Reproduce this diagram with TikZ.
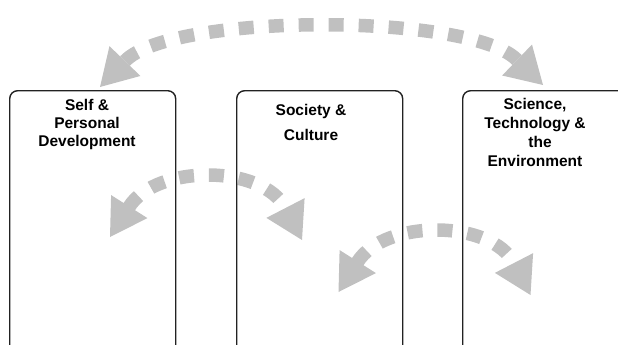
\documentclass[tikz,border=0pt]{standalone}
\usepackage{fontspec}
\setmainfont{Liberation Sans}
\usetikzlibrary{arrows.meta}
\definecolor{arcgray}{HTML}{C0C0C0}
\definecolor{boxline}{HTML}{222222}
\tikzset{
  boxshape/.style={draw=boxline, line width=1.4pt, rounded corners=8pt, minimum width=166pt, minimum height=320pt, anchor=north west, inner sep=0pt},
  boxlabel/.style={font=\bfseries\fontsize{15.5}{18}\selectfont, align=center, anchor=base, inner sep=0pt},
  arcline/.style={draw=arcgray, line width=13.5pt, dash pattern=on 15pt off 15pt,
     {Triangle[length=36pt, width=43pt, fill=arcgray, line width=0pt]}-{Triangle[length=36pt, width=43pt, fill=arcgray, line width=0pt]}}
}
\begin{document}
\begin{tikzpicture}[x=1pt, y=-1pt]
\useasboundingbox (0,0) rectangle (618,345);
\clip (0,0) rectangle (618,345);
% arcs
\coordinate (tL) at (100,87);
\coordinate (tR) at (543,85);
\draw[arcline] (tL) -- (125,61) .. controls (171,13) and (468,13) .. (516,59) -- (tR);
\coordinate (aL) at (110,237);
\coordinate (aR) at (302,240);
\draw[arcline] (aL) -- (129,207) .. controls (156,164) and (263,164) .. (286,209) -- (aR);
\coordinate (cL) at (338.5,292);
\coordinate (cR) at (530.5,295);
\draw[arcline] (cL) -- (357.5,262) .. controls (384.5,219) and (491.5,219) .. (514.5,264) -- (cR);
% boxes
\node[boxshape] (b1) at (9,90) {};
\node[boxshape] (b2) at (236,90) {};
\node[boxshape] (b3) at (462,90) {};
% labels
\node[boxlabel] (l1) at (87,146) {Self \&\\Personal\\Development};
\node[boxlabel, font=\bfseries\fontsize{15.5}{25}\selectfont] (l2) at (311,140) {Society \&\\Culture};
\node[boxlabel, font=\bfseries\fontsize{15.5}{18.7}\selectfont] (l3) at (535,166) {Science,\\Technology \&\\\hspace*{10pt}the\\Environment};
\end{tikzpicture}
\end{document}
